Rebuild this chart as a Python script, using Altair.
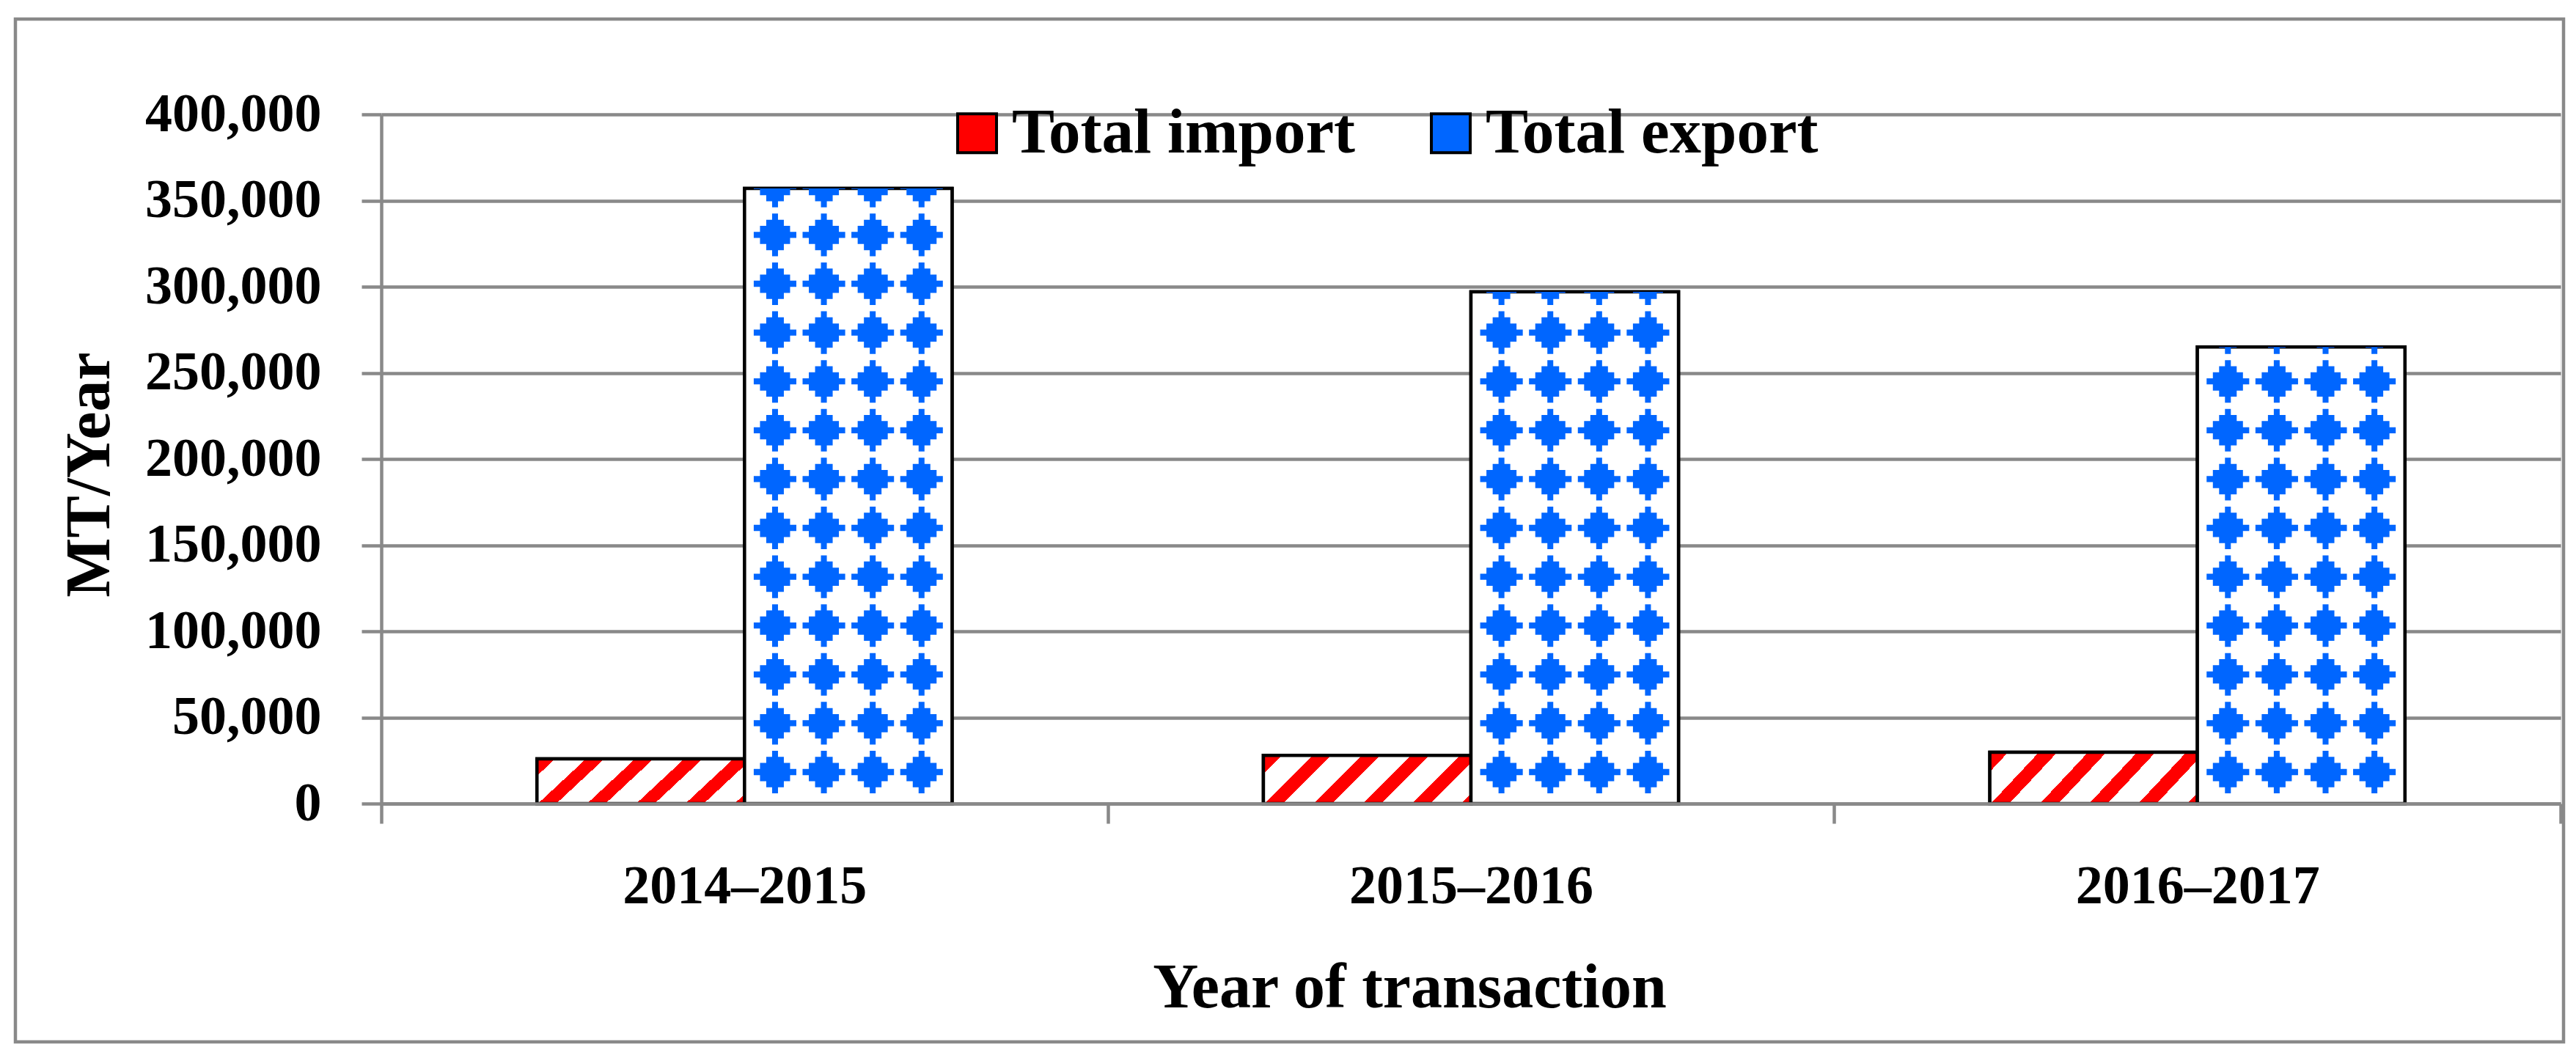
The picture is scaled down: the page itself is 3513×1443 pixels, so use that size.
import altair as alt
import pandas as pd

# ---------------- data ----------------
years = ["2014–2015", "2015–2016", "2016–2017"]
series_names = ["Total import", "Total export"]
total_import = [26000, 28000, 29800]
total_export = [357000, 297000, 265000]
y_ticks = [0, 50000, 100000, 150000, 200000, 250000, 300000, 350000, 400000]
y_max = 400000

# ---------------- style ----------------
RED = "#ff0000"
BLUE = "#0066ff"
GRAY = "#898989"
FONT = "Liberation Serif"
PLOT_W = 2972
PLOT_H = 940
LINE_W = 4.5

df = pd.DataFrame({
    "year": years * 2,
    "series": [series_names[0]] * len(years) + [series_names[1]] * len(years),
    "value": total_import + total_export,
})

px_per_unit = PLOT_H / y_max
group_w = PLOT_W / len(years)
outer_pad = 0.75
bar_w = group_w / (2 + 2 * outer_pad)

# diagonal stripe gradient for the import bars (45 degree "/" stripes)
bar_h = sum(total_import) / len(total_import) * px_per_unit
U = bar_w + bar_h
k = U / (bar_w ** 2 + bar_h ** 2)
STRIPE_PERIOD = 67.0
STRIPE_RED = 25.0
stops = [alt.GradientStop(color="white", offset=0)]
u = 0.0
while u < U:
    a = u / U
    b = min(u + STRIPE_RED, U) / U
    stops += [
        alt.GradientStop(color="white", offset=a),
        alt.GradientStop(color=RED, offset=a),
        alt.GradientStop(color=RED, offset=b),
        alt.GradientStop(color="white", offset=b),
    ]
    u += STRIPE_PERIOD
stops.append(alt.GradientStop(color="white", offset=1))
stripe_fill = alt.LinearGradient(gradient="linear", stops=stops,
                                 x1=0, y1=0, x2=k * bar_w, y2=k * bar_h)

# stepped-diamond dot pattern for export bars
DOT_STEP_PX = 66.6
DOT_R_PX = 29.05
ROW0_PX = 43.0
row0 = ROW0_PX / px_per_unit
row_step = DOT_STEP_PX / px_per_unit
dot_r = DOT_R_PX / px_per_unit
first_col_px = outer_pad * bar_w + bar_w + (bar_w - 3 * DOT_STEP_PX) / 2
# horizontal bands of the stepped diamond, normalised to [-1, 1]: (top, bottom, half width)
half_w = [0.138, 0.413, 0.706, 1.0, 0.706, 0.413, 0.138]
edges = [-1.0, -0.714, -0.429, -0.143, 0.143, 0.429, 0.714, 1.0]
parts = []
for i, w in enumerate(half_w):
    y0, y1 = edges[i], edges[i + 1]
    parts.append(f"'M{-w},' + min(max({y0}, datum.cut), {y1}) + 'H{w}V{y1}H{-w}Z'")
shape_expr = " + ' ' + ".join(parts)

# ---------------- encodings ----------------
x_axis = alt.Axis(
    title="Year of transaction", labelAngle=0, labelFont=FONT, labelFontWeight="bold",
    labelFontSize=74, labelColor="black", labelBaseline="alphabetic", labelPadding=108,
    labelLimit=2000,
    tickBand="extent", tickSize=27, tickColor=GRAY, tickWidth=LINE_W,
    domainColor=GRAY, domainWidth=LINE_W, grid=False, zindex=1,
    titleFont=FONT, titleFontWeight="bold", titleFontSize=86, titleColor="black",
    titleX=1402, titleY=277, titleBaseline="alphabetic", titleAlign="center",
)
y_axis = alt.Axis(
    title="MT/Year", values=y_ticks, labelExpr="format(datum.value, ',')",
    labelFont=FONT, labelFontWeight="bold",
    labelFontSize=74, labelColor="black", labelPadding=55, labelLimit=2000,
    tickSize=27, tickColor=GRAY, tickWidth=LINE_W,
    domainColor=GRAY, domainWidth=LINE_W, grid=True, gridColor=GRAY, gridWidth=LINE_W,
    titleFont=FONT, titleFontWeight="bold", titleFontSize=86, titleColor="black",
    titleX=-372, titleY=491, titleBaseline="alphabetic", titleAlign="center", titleAngle=-90,
)
x_enc = alt.X("year:N", sort=years, axis=x_axis,
              scale=alt.Scale(domain=years, paddingInner=0, paddingOuter=0))
xo_enc = alt.XOffset("series:N", sort=series_names,
                     scale=alt.Scale(domain=series_names, paddingInner=0, paddingOuter=outer_pad))
y_scale = alt.Scale(domain=[0, y_max], nice=False)

base = alt.Chart(df)

# frame around the whole figure
frame = alt.Chart(pd.DataFrame({"k": [0]})).mark_rect(
    fill="white", fillOpacity=0, stroke=GRAY, strokeWidth=LINE_W
).encode(x=alt.value(-499), x2=alt.value(2976), y=alt.value(-130), y2=alt.value(1265))

legend_bars = base.mark_bar(stroke="black", strokeWidth=LINE_W).encode(
    x=x_enc, xOffset=xo_enc,
    y=alt.Y("value:Q", scale=y_scale, axis=y_axis),
    fill=alt.Fill("series:N", title=None,
                  scale=alt.Scale(domain=series_names, range=[RED, BLUE]),
                  legend=alt.Legend(
                      orient="none", legendX=769, legendY=-18, direction="horizontal",
                      symbolType="square", symbolSize=2809, symbolStrokeColor="black",
                      symbolStrokeWidth=4, symbolOpacity=1, labelFont=FONT,
                      labelFontWeight="bold", labelFontSize=87, labelColor="black",
                      labelOffset=4, labelLimit=2000, columnPadding=86, padding=0)),
)

import_bars = base.transform_filter(alt.datum.series == series_names[0]).mark_bar(
    fill=stripe_fill, stroke="black", strokeWidth=LINE_W
).encode(x=x_enc, xOffset=xo_enc, y=alt.Y("value:Q", scale=y_scale, axis=y_axis))

export_bars = base.transform_filter(alt.datum.series == series_names[1]).mark_bar(
    fill="white", stroke="black", strokeWidth=LINE_W
).encode(x=x_enc, xOffset=xo_enc, y=alt.Y("value:Q", scale=y_scale, axis=y_axis))

dots = (
    base.transform_filter(alt.datum.series == series_names[1])
    .transform_calculate(row="sequence(0, 20)", col="sequence(0, 4)")
    .transform_flatten(["row"])
    .transform_flatten(["col"])
    .transform_calculate(ry=f"{row0} + datum.row * {row_step}",
                         px=f"{first_col_px} + datum.col * {DOT_STEP_PX}")
    .transform_calculate(cut=f"max(-1, -(datum.value - datum.ry) / {dot_r})")
    .transform_filter("datum.cut < 0.99")
    .transform_calculate(dot_shape=shape_expr)
    .mark_point(size=(2 * DOT_R_PX) ** 2, filled=True,
                color=BLUE, opacity=1, strokeWidth=0)
    .encode(x=x_enc,
            xOffset=alt.XOffset("px:Q", scale=alt.Scale(domain=[0, group_w], range=[0, group_w])),
            y=alt.Y("ry:Q", scale=y_scale, axis=y_axis),
            shape=alt.Shape("dot_shape:N", scale=None))
)

chart = alt.layer(frame, legend_bars, import_bars, export_bars, dots).resolve_scale(
    xOffset="independent"
).properties(
    width=PLOT_W, height=PLOT_H,
    padding={"left": 10, "top": 15, "right": 5, "bottom": 5},
    background="white",
).configure_view(strokeWidth=0).configure(font=FONT)

chart.save("out.html", embed_options={"renderer": "svg", "actions": False})
